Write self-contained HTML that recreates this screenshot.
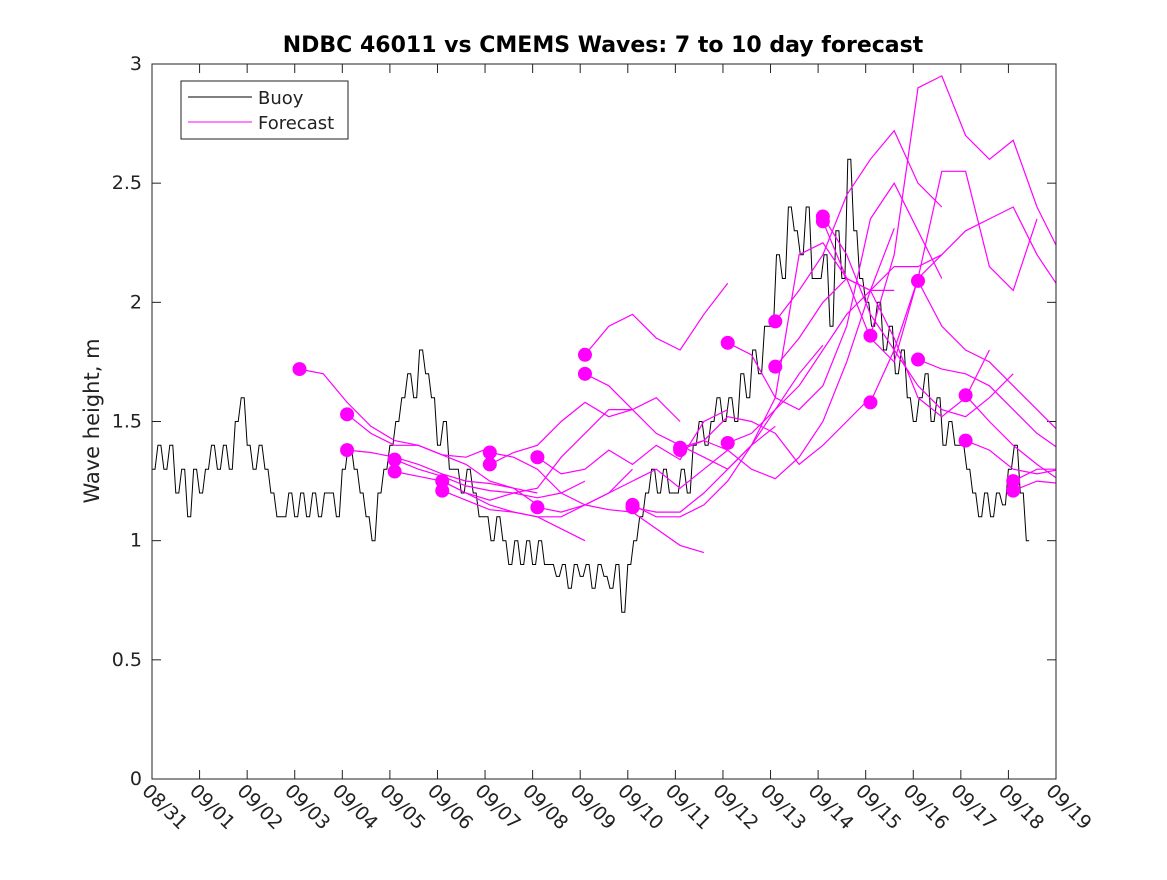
<!DOCTYPE html>
<html><head><meta charset="utf-8"><style>
body{margin:0;background:#fff}
svg{font-family:"DejaVu Sans","Liberation Sans",sans-serif}
</style></head><body>
<svg id="chart" width="1167" height="875" viewBox="0 0 1167 875">
<rect x="0" y="0" width="1167" height="875" fill="#fff"/>
<text x="603" y="52" text-anchor="middle" font-size="22" font-weight="bold" fill="#000">NDBC 46011 vs CMEMS Waves: 7 to 10 day forecast</text>
<text transform="translate(99,421) rotate(-90)" text-anchor="middle" font-size="21" fill="#222">Wave height, m</text>
<g id="axes"></g>
<defs><clipPath id="clip"><rect x="152" y="64" width="904" height="715"/></clipPath></defs>
<g id="series" clip-path="url(#clip)"></g>
<rect x="152" y="64" width="904" height="715" fill="none" stroke="#222" stroke-width="1"/>
<g>
<rect x="181" y="81" width="167" height="58" fill="#fff" stroke="#222"/>
<line x1="188" y1="97" x2="252" y2="97" stroke="#000"/>
<text x="258" y="104" font-size="18" fill="#222">Buoy</text>
<line x1="188" y1="122" x2="252" y2="122" stroke="#f0f"/>
<text x="258" y="129" font-size="18" fill="#222">Forecast</text>
</g>
</svg>
<script>
const xTickLabels=["08/31","09/01","09/02","09/03","09/04","09/05","09/06","09/07","09/08","09/09","09/10","09/11","09/12","09/13","09/14","09/15","09/16","09/17","09/18","09/19"];
const yTicks=[0,0.5,1,1.5,2,2.5,3];
const yTickLabels=["0","0.5","1","1.5","2","2.5","3"];
const buoyStep=0.125;
const buoyValues=[
1.3,1.4,1.3,1.4,1.2,1.3,1.1,1.3,
1.2,1.3,1.4,1.3,1.4,1.3,1.5,1.6,
1.4,1.3,1.4,1.3,1.2,1.1,1.1,1.2,
1.1,1.2,1.1,1.2,1.1,1.2,1.2,1.1,
1.3,1.4,1.3,1.2,1.1,1.0,1.2,1.3,
1.4,1.5,1.6,1.7,1.6,1.8,1.7,1.6,
1.4,1.5,1.3,1.3,1.2,1.3,1.2,1.1,
1.1,1.0,1.1,1.0,0.9,1.0,0.9,1.0,
0.9,1.0,0.9,0.9,0.85,0.9,0.8,0.9,
0.85,0.9,0.8,0.9,0.85,0.8,0.9,0.7,
0.9,1.0,1.1,1.2,1.3,1.2,1.3,1.2,
1.2,1.3,1.2,1.4,1.5,1.4,1.5,1.6,
1.5,1.6,1.5,1.7,1.6,1.8,1.7,1.9,
1.9,2.2,2.1,2.4,2.3,2.2,2.4,2.1,
2.1,2.2,1.9,2.3,2.1,2.6,2.3,2.1,
2.0,1.9,2.0,1.8,1.9,1.7,1.8,1.6,
1.5,1.6,1.7,1.5,1.6,1.4,1.5,1.4,
1.4,1.3,1.2,1.1,1.2,1.1,1.2,1.15,
1.3,1.4,1.2,1.0];
const fcStep=0.5;
const fcStarts=[3.1,4.1,4.1,5.1,5.1,6.1,6.1,7.1,7.1,8.1,8.1,9.1,9.1,10.1,10.1,11.1,11.1,12.1,12.1,13.1,13.1,14.1,14.1,15.1,15.1,16.1,16.1,17.1,17.1,18.1,18.1];
const fcValues=[
[1.72,1.70,1.58,1.48,1.42,1.40,1.36,1.35,1.39],
[1.53,1.45,1.40,1.40,1.36,1.32,1.25,1.22,1.20],
[1.38,1.37,1.35,1.32,1.28,1.25,1.24,1.22,1.15],
[1.34,1.30,1.27,1.23,1.21,1.20,1.18,1.20,1.25],
[1.29,1.27,1.25,1.20,1.15,1.12,1.10,1.05,1.00],
[1.25,1.20,1.17,1.20,1.22,1.35,1.45,1.55,1.55],
[1.21,1.17,1.13,1.12,1.10,1.10,1.15,1.20,1.30],
[1.37,1.35,1.30,1.20,1.15,1.13,1.12,1.05,0.98,0.95],
[1.32,1.37,1.40,1.50,1.58,1.52,1.55,1.60,1.50],
[1.35,1.28,1.30,1.38,1.32,1.40,1.34,1.50,1.55],
[1.14,1.12,1.15,1.20,1.25,1.30,1.22,1.30,1.38],
[1.78,1.90,1.95,1.85,1.80,1.95,2.08],
[1.70,1.65,1.55,1.45,1.40,1.35,1.30,1.40,1.48],
[1.15,1.10,1.10,1.15,1.25,1.40,1.55,1.70,1.82],
[1.14,1.12,1.12,1.20,1.30,1.40,1.60,2.20,2.25,2.10,2.05,2.31],
[1.39,1.42,1.52,1.50,1.45,1.32,1.40,1.50,1.60],
[1.38,1.42,1.38,1.30,1.26,1.35,1.50,1.75,2.05,2.05],
[1.83,1.78,1.60,1.55,1.65,1.90,2.35,2.50,2.30,2.10],
[1.41,1.45,1.55,1.65,1.80,1.95,2.05,2.15,2.15,2.20],
[1.92,2.05,2.20,2.45,2.60,2.72,2.50,2.40],
[1.73,1.85,2.00,2.10,2.05,1.85,1.60,1.52,1.60,1.80],
[2.36,2.20,1.95,1.80,1.65,1.55,1.52,1.60,1.70],
[2.34,2.10,1.85,1.75,2.10,2.55,2.55,2.15,2.05,2.35],
[1.86,2.20,2.90,2.95,2.70,2.60,2.68,2.40,2.20,2.10],
[1.58,1.80,2.10,2.20,2.30,2.35,2.40,2.20,2.05],
[2.09,1.90,1.80,1.75,1.65,1.55,1.45,1.40,1.35],
[1.76,1.72,1.70,1.65,1.55,1.45,1.38,1.35,1.38,1.38],
[1.61,1.50,1.40,1.32,1.25,1.45,1.55,1.60,1.68],
[1.42,1.38,1.30,1.28,1.30,1.50,1.45,1.48,1.53],
[1.25,1.30,1.30,1.32],
[1.21,1.25,1.24,1.28,1.68]
];
const NS="http://www.w3.org/2000/svg";
const X0=152,X1=1056,Y0=779,Y1=64;
function xs(d){return X0+d*(X1-X0)/19;}
function ys(v){return Y0-v*(Y0-Y1)/3;}
function mk(t,a,p){const e=document.createElementNS(NS,t);for(const k in a)e.setAttribute(k,a[k]);p.appendChild(e);return e;}
const axes=document.getElementById('axes');
xTickLabels.forEach((lab,i)=>{
  const x=xs(i);
  const t1=mk('line',{x1:x,y1:Y0,x2:x,y2:Y0-9,stroke:'#222'},axes);
  
  
  const t2=mk('line',{x1:x,y1:Y1,x2:x,y2:Y1+9,stroke:'#222'},axes);
  
  
  const tx=mk('text',{x:0,y:0,'font-size':19,fill:'#222',transform:`translate(${x-11},${Y0+13}) rotate(45)`},axes);
  tx.textContent=lab;
  
  
});
yTicks.forEach((v,i)=>{
  const y=ys(v);
  const t1=mk('line',{x1:X0,y1:y,x2:X0+9,y2:y,stroke:'#222'},axes);
  
  
  const t2=mk('line',{x1:X1,y1:y,x2:X1-9,y2:y,stroke:'#222'},axes);
  
  
  const tx=mk('text',{x:X0-10,y:y+6,'font-size':19,fill:'#222','text-anchor':'end'},axes);
  tx.textContent=yTickLabels[i];
  
  
});
const series=document.getElementById('series');
let bp=[];
buoyValues.forEach((v,i)=>{
  const x0=xs(i*buoyStep),x1=xs((i+1)*buoyStep);
  bp.push(x0.toFixed(1)+','+ys(v).toFixed(1));
  bp.push(((x0+x1)/2).toFixed(1)+','+ys(v).toFixed(1));
});
const bl=mk('polyline',{points:bp.join(' '),fill:'none',stroke:'#000','stroke-width':1},series);


fcValues.forEach((vals,i)=>{
  const s=fcStarts[i];
  const pts=vals.map((v,j)=>xs(s+j*fcStep).toFixed(1)+','+ys(v).toFixed(1)).join(' ');
  const pl=mk('polyline',{points:pts,fill:'none',stroke:'#f0f','stroke-width':1.2},series);
  
  
});
fcValues.forEach((vals,i)=>{
  const c=mk('circle',{cx:xs(fcStarts[i]),cy:ys(vals[0]),r:7,fill:'#f0f'},series);
  
  
});
</script>
</body></html>
